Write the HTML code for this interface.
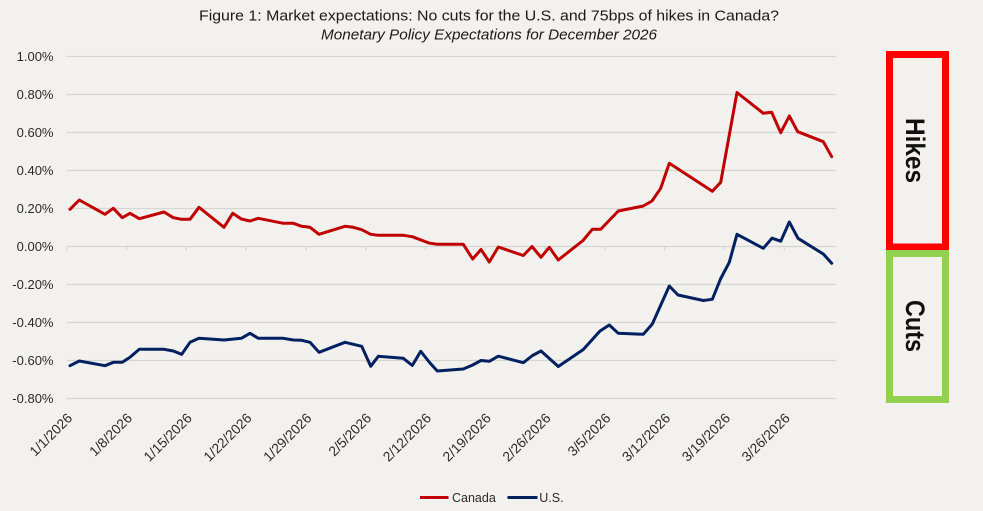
<!DOCTYPE html>
<html>
<head>
<meta charset="utf-8">
<style>
  html,body{margin:0;padding:0;background:#f2f1ed;}
  svg{display:block;}
  text{font-family:"Liberation Sans", sans-serif;}
</style>
</head>
<body>
<svg width="983" height="511" viewBox="0 0 983 511" xmlns="http://www.w3.org/2000/svg">
  <rect x="0" y="0" width="983" height="511" fill="#f2f1ed"/>

  <!-- Title -->
  <text x="489" y="20.5" text-anchor="middle" font-size="15" fill="#1a1a1a" textLength="580" lengthAdjust="spacingAndGlyphs">Figure 1: Market expectations: No cuts for the U.S. and 75bps of hikes in Canada?</text>
  <text x="489" y="39.3" text-anchor="middle" font-size="14.5" font-style="italic" fill="#1a1a1a" textLength="336" lengthAdjust="spacingAndGlyphs">Monetary Policy Expectations for December 2026</text>

  <!-- Gridlines -->
  <g stroke="#d6d5d3" stroke-width="1.2">
    <line x1="66.7" y1="56.5" x2="836" y2="56.5"/>
    <line x1="66.7" y1="94.5" x2="836" y2="94.5"/>
    <line x1="66.7" y1="132.5" x2="836" y2="132.5"/>
    <line x1="66.7" y1="170.5" x2="836" y2="170.5"/>
    <line x1="66.7" y1="208.5" x2="836" y2="208.5"/>
    <line x1="66.7" y1="246.5" x2="836" y2="246.5"/>
    <line x1="66.7" y1="284.5" x2="836" y2="284.5"/>
    <line x1="66.7" y1="322.5" x2="836" y2="322.5"/>
    <line x1="66.7" y1="360.5" x2="836" y2="360.5"/>
    <line x1="66.7" y1="398.5" x2="836" y2="398.5"/>
  </g>
  <!-- Tick marks -->
  <g stroke="#d6d5d3" stroke-width="1.2">
    <line x1="66.7" y1="246.5" x2="66.7" y2="250.5"/>
    <line x1="126.5" y1="246.5" x2="126.5" y2="250.5"/>
    <line x1="186.3" y1="246.5" x2="186.3" y2="250.5"/>
    <line x1="246.1" y1="246.5" x2="246.1" y2="250.5"/>
    <line x1="305.9" y1="246.5" x2="305.9" y2="250.5"/>
    <line x1="365.7" y1="246.5" x2="365.7" y2="250.5"/>
    <line x1="425.5" y1="246.5" x2="425.5" y2="250.5"/>
    <line x1="485.3" y1="246.5" x2="485.3" y2="250.5"/>
    <line x1="545.1" y1="246.5" x2="545.1" y2="250.5"/>
    <line x1="604.9" y1="246.5" x2="604.9" y2="250.5"/>
    <line x1="664.7" y1="246.5" x2="664.7" y2="250.5"/>
    <line x1="724.5" y1="246.5" x2="724.5" y2="250.5"/>
    <line x1="784.3" y1="246.5" x2="784.3" y2="250.5"/>
  </g>

  <!-- Y labels -->
  <g font-size="13" fill="#2b2b2b" text-anchor="end">
    <text x="53.5" y="61">1.00%</text>
    <text x="53.5" y="99">0.80%</text>
    <text x="53.5" y="137">0.60%</text>
    <text x="53.5" y="175">0.40%</text>
    <text x="53.5" y="213">0.20%</text>
    <text x="53.5" y="251">0.00%</text>
    <text x="53.5" y="289">-0.20%</text>
    <text x="53.5" y="327">-0.40%</text>
    <text x="53.5" y="365">-0.60%</text>
    <text x="53.5" y="403">-0.80%</text>
  </g>

  <!-- X labels -->
  <g font-size="13.8" fill="#2b2b2b" text-anchor="end">
    <text transform="translate(73.2,419) rotate(-45)">1/1/2026</text>
    <text transform="translate(133,419) rotate(-45)">1/8/2026</text>
    <text transform="translate(192.8,419) rotate(-45)">1/15/2026</text>
    <text transform="translate(252.6,419) rotate(-45)">1/22/2026</text>
    <text transform="translate(312.4,419) rotate(-45)">1/29/2026</text>
    <text transform="translate(372.2,419) rotate(-45)">2/5/2026</text>
    <text transform="translate(432,419) rotate(-45)">2/12/2026</text>
    <text transform="translate(491.8,419) rotate(-45)">2/19/2026</text>
    <text transform="translate(551.6,419) rotate(-45)">2/26/2026</text>
    <text transform="translate(611.4,419) rotate(-45)">3/5/2026</text>
    <text transform="translate(671.2,419) rotate(-45)">3/12/2026</text>
    <text transform="translate(731,419) rotate(-45)">3/19/2026</text>
    <text transform="translate(790.8,419) rotate(-45)">3/26/2026</text>
  </g>

  <!-- Canada -->
  <polyline fill="none" stroke="#c00000" stroke-width="3" stroke-linejoin="round" stroke-linecap="round" points="
    70,209.3 79.3,200 105,214.3 113.3,208.3 122.3,217.7 130,213.3 139.3,218.7 164,212 173.3,217.7 181.7,219.3 190,219.3 199,207.3
    224,227.3 232.7,213.3 241.3,219 250,221 258.3,218.3 283.3,223.3 293.3,223.3 301.7,226.3 310,227.3 319,234.3
    345,226.3 353.3,227.3 361.7,229.7 370.7,234.3 378.3,235.3 403.3,235.3 412.3,236.7 429,243 437.3,244.3
    463.3,244.3 472.7,259 481,249.5 489.3,262 498.3,247 523.3,255.5 532,246.5 541,257.3 549.3,247.3 558.3,260
    583,240.5 592.3,229.3 600.7,229.3 618.3,211 643.3,206 652,201 660.7,188.3 669.3,163.3 712.3,191.3 720.7,182.3
    737,92.5 763.3,113.3 771.7,112.3 780.7,132.7 789.3,116 797.7,131.7 823.3,141.7 831.7,156.7"/>

  <!-- U.S. -->
  <polyline fill="none" stroke="#002060" stroke-width="3" stroke-linejoin="round" stroke-linecap="round" points="
    70,365.7 79.3,361 105,365.7 113.3,362.3 122.3,362.3 130,357.3 139.3,349.3 164,349.3 173.3,351 181.7,354.3 190,342.3 199,338.3
    224,340 241.3,338.3 250,333.3 258.3,338.3 283.3,338.3 293.3,340 301.7,340.3 310,342.3 319,352.3
    345,342.3 361.7,346.3 370.7,366.3 378.3,356.3 403.3,358.3 412.3,365.5 420.7,351.3 430,363 437.3,371
    463.3,369 472.7,365 481,360.5 489.3,361.3 498.3,356.2 523.3,362.7 532.5,355.5 541,351 558.3,366.5
    583.3,349.5 600,331 609.3,325 618.3,333.3 643.3,334.3 652.3,324 669.3,286 678,295 703.3,300.5 712.3,299.3
    720.5,279 729.3,262.3 737,234.3 763.3,248.3 772,238.2 780.8,241.2 789.3,222 798,238.3 823.3,254 831.7,263.3"/>

  <!-- Legend -->
  <line x1="420" y1="497.5" x2="448.5" y2="497.5" stroke="#c00000" stroke-width="3"/>
  <text x="452" y="502" font-size="12.5" fill="#2b2b2b">Canada</text>
  <line x1="507.5" y1="497.5" x2="537.5" y2="497.5" stroke="#002060" stroke-width="3"/>
  <text x="539.3" y="502" font-size="12.5" fill="#2b2b2b">U.S.</text>

  <!-- Hikes / Cuts boxes -->
  <rect x="889.5" y="54.5" width="56" height="192.5" fill="none" stroke="#ff0000" stroke-width="7"/>
  <rect x="889.5" y="253.5" width="56" height="146" fill="none" stroke="#92d050" stroke-width="7"/>
  <rect x="886" y="245" width="63" height="5" fill="#ff0000"/>

  <text transform="translate(906,150.5) rotate(90)" text-anchor="middle" font-size="27" font-weight="bold" fill="#111" textLength="65" lengthAdjust="spacingAndGlyphs">Hikes</text>
  <text transform="translate(906,326) rotate(90)" text-anchor="middle" font-size="27" font-weight="bold" fill="#111" textLength="52" lengthAdjust="spacingAndGlyphs">Cuts</text>
</svg>
</body>
</html>
